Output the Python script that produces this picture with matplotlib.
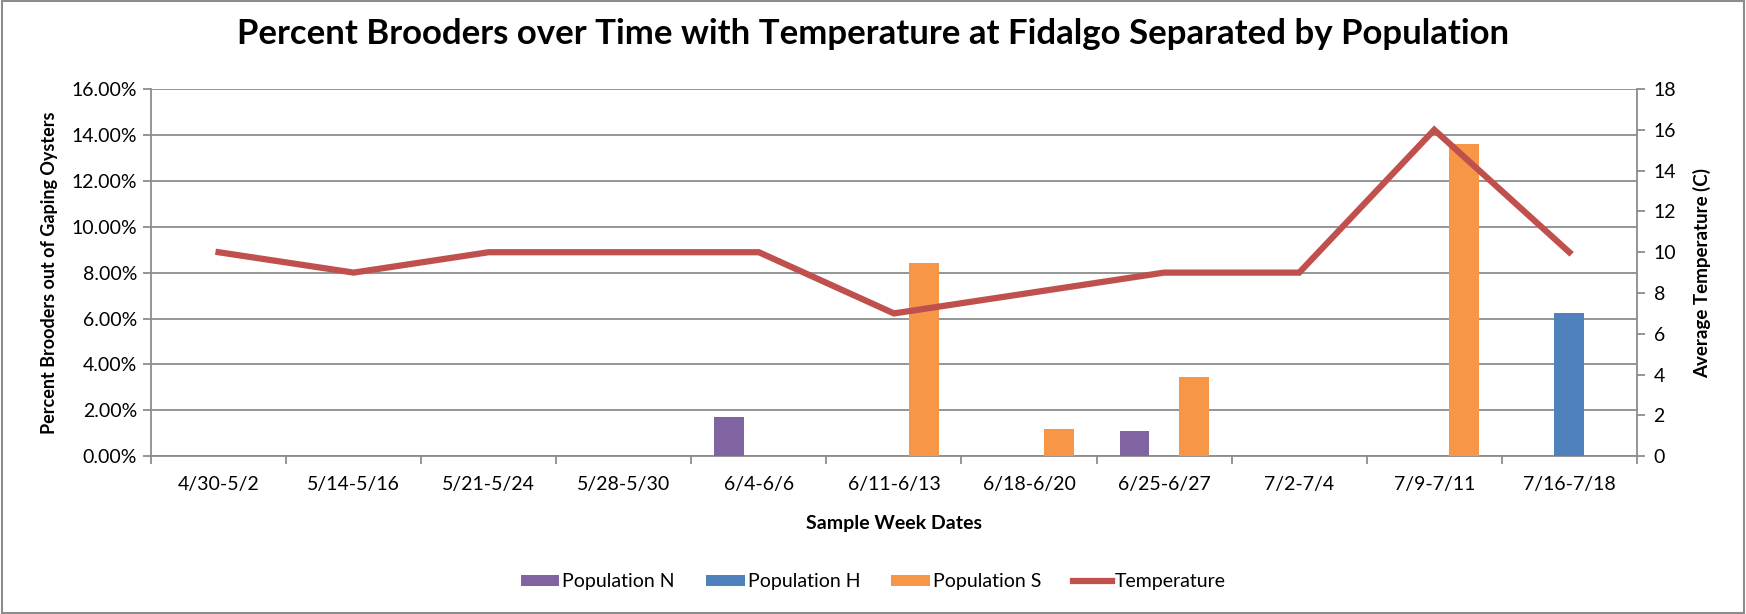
import numpy as np
import matplotlib
matplotlib.use("Agg")
import matplotlib.pyplot as plt
from matplotlib.ticker import PercentFormatter

plt.rcParams['font.family'] = ['Lato', 'DejaVu Sans']

weeks = ['4/30-5/2', '5/14-5/16', '5/21-5/24', '5/28-5/30', '6/4-6/6', '6/11-6/13',
         '6/18-6/20', '6/25-6/27', '7/2-7/4', '7/9-7/11', '7/16-7/18']
pop_n = [0, 0, 0, 0, 1.7, 0, 0, 1.1, 0, 0, 0]
pop_h = [0, 0, 0, 0, 0, 0, 0, 0, 0, 0, 6.25]
pop_s = [0, 0, 0, 0, 0, 8.4, 1.2, 3.45, 0, 13.6, 0]
temperature = [10, 9, 10, 10, 10, 7, 8, 9, 9, 16, 10]

fig = plt.figure(figsize=(17.46, 6.14), dpi=100)
ax = fig.add_axes([0.0865, 0.257, 0.851, 0.598])
ax2 = ax.twinx()

x = np.arange(len(weeks))
w = 0.22
grid_c = '#8c8c8c'

ax.bar(x - w, pop_n, w, color='#8064A2', label='Population N', zorder=3)
ax.bar(x, pop_h, w, color='#4F81BD', label='Population H', zorder=3)
ax.bar(x + w, pop_s, w, color='#F79646', label='Population S', zorder=3)
ax2.plot(x, temperature, color='#C0504D', lw=4.5, label='Temperature',
         solid_joinstyle='miter', zorder=4)

ax.set_xlim(-0.5, len(weeks) - 0.5)
ax.set_ylim(0, 16)
ax.set_yticks(np.arange(0, 16.1, 2))
ax.yaxis.set_major_formatter(PercentFormatter(decimals=2))
ax.yaxis.grid(True, color=grid_c, lw=1.3, zorder=0)
ax.set_axisbelow(True)
ax2.set_ylim(0, 18)
ax2.set_yticks(np.arange(0, 19, 2))

ax.set_xticks(x)
ax.set_xticklabels(weeks)
ax.set_xticks(np.arange(-0.5, len(weeks), 1), minor=True)
ax.tick_params(axis='x', which='major', length=0, pad=14, labelsize=14)
ax.tick_params(axis='x', which='minor', length=6, color=grid_c, width=1.3)
ax.tick_params(axis='y', length=6, color=grid_c, width=1.3, labelsize=14, pad=4)
ax2.tick_params(axis='y', length=6, color=grid_c, width=1.3, labelsize=14, pad=6)

for a in (ax, ax2):
    for s in a.spines.values():
        s.set_visible(False)
ax.spines['left'].set_visible(True)
ax.spines['bottom'].set_visible(True)
ax2.spines['right'].set_visible(True)
for s in (ax.spines['left'], ax.spines['bottom'], ax2.spines['right']):
    s.set_color(grid_c)
    s.set_linewidth(1.3)

ax.set_xlabel('Sample Week Dates', fontsize=14, fontweight='bold', labelpad=16)
ax.set_ylabel('Percent Brooders out of Gaping Oysters', fontsize=13, fontweight='bold', labelpad=10)
ax2.set_ylabel('Average Temperature (C)', fontsize=13.5, fontweight='bold', labelpad=12)

fig.suptitle('Percent Brooders over Time with Temperature at Fidalgo Separated by Population',
             fontsize=25, fontweight='bold', y=0.97)

h1, l1 = ax.get_legend_handles_labels()
h2, l2 = ax2.get_legend_handles_labels()
fig.legend(h1 + h2, l1 + l2, loc='center', bbox_to_anchor=(0.5, 0.053), ncol=4,
           frameon=False, fontsize=14, handlelength=2.0, handleheight=0.5,
           columnspacing=1.6, handletextpad=0.15)

fig.patches.append(plt.Rectangle((0.001, 0.002), 0.998, 0.996, transform=fig.transFigure,
                                 fill=False, edgecolor='#8c8c8c', lw=1.5))

fig.savefig('out.png', dpi=100)
